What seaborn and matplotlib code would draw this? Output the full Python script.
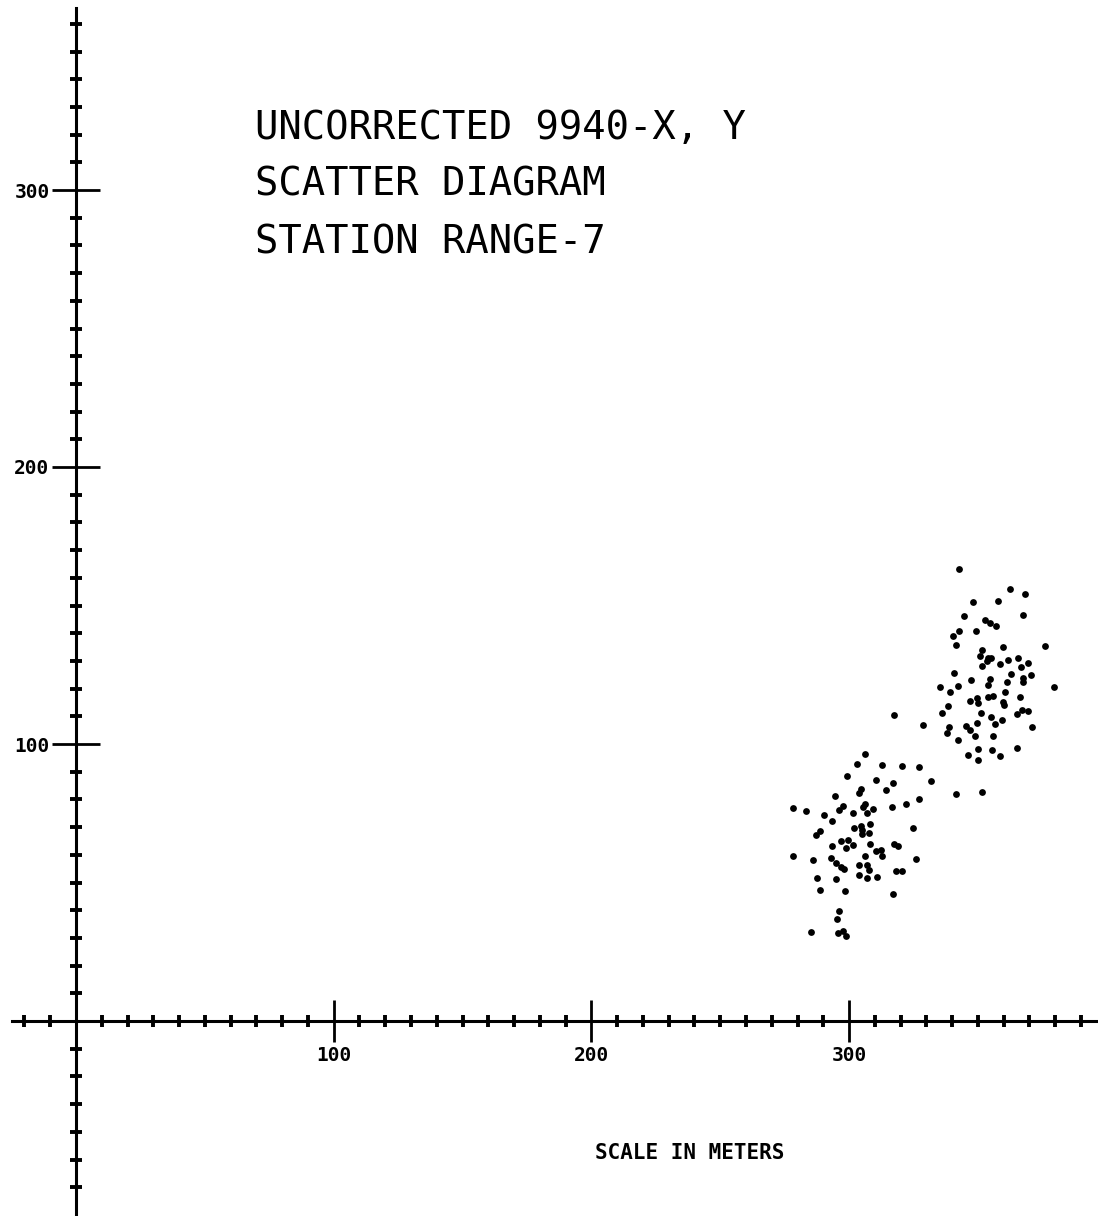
import matplotlib
matplotlib.use("Agg")
import matplotlib.pyplot as plt
import seaborn as sns
import numpy as np
import pandas as pd
from matplotlib.ticker import FixedLocator

# ---- data (meters) ----
cluster_a_x = [306.1, 303.2, 312.6, 320.5, 327.1, 299.2, 310.6, 317.2, 331.8, 304.7,
               303.8, 314.2, 294.5, 327.1, 322.0, 278.3, 283.2, 297.6, 296.2, 306.2,
               305.4, 309.2, 316.8, 301.4, 306.8, 290.4, 293.4, 308.0, 304.5, 305.0,
               305.0, 301.8, 307.7, 324.9, 288.7, 287.0, 296.9, 299.7, 293.5, 298.7,
               301.5, 308.0, 317.4, 319.0, 310.4, 312.5, 312.6, 306.1, 278.3, 285.9,
               292.9, 326.1, 295.0, 296.7, 298.0, 303.7, 307.1, 307.8, 318.2, 320.5,
               303.7, 307.1, 310.9, 287.5, 295.0, 288.7, 298.4, 317.0, 296.2, 295.2,
               285.1, 295.8, 297.5, 298.7, 317.4, 328.8]
cluster_a_y = [96.3, 92.9, 92.3, 92.2, 91.6, 88.3, 87.0, 86.0, 86.8, 83.9,
               82.3, 83.5, 81.3, 80.3, 78.4, 76.8, 75.9, 77.5, 76.3, 78.4,
               77.4, 76.4, 77.4, 75.1, 75.1, 74.4, 72.1, 71.2, 70.4, 69.0,
               67.4, 69.7, 67.9, 69.8, 68.6, 67.3, 65.1, 65.5, 63.2, 62.6,
               63.6, 63.8, 64.0, 63.2, 61.4, 61.6, 59.7, 59.7, 59.6, 58.0,
               59.0, 58.5, 57.1, 55.7, 54.9, 56.4, 56.4, 54.6, 54.2, 54.3,
               52.7, 51.6, 52.1, 51.5, 51.3, 47.4, 47.0, 45.7, 39.7, 36.9,
               32.1, 31.7, 32.4, 30.6, 110.5, 107.0]

cluster_b_x = [342.6, 362.3, 368.1, 348.0, 357.7, 344.6, 367.5, 352.7, 354.7, 357.0,
               342.5, 340.2, 349.4, 341.6, 375.9, 359.8, 351.6, 350.8, 354.0, 354.9,
               353.6, 351.7, 358.6, 361.8, 365.7, 369.3, 366.8, 340.7, 362.7, 370.7,
               347.2, 354.8, 353.9, 367.5, 367.5, 361.3, 335.3, 342.1, 339.3, 379.5,
               360.4, 349.8, 349.9, 346.9, 353.9, 356.0, 359.8, 360.0, 366.4, 338.4,
               336.2, 351.1, 354.9, 365.0, 367.0, 369.5, 338.8, 338.0, 345.5, 346.9,
               349.8, 356.6, 359.3, 371.0, 349.0, 356.0, 342.1, 350.0, 355.3, 365.0,
               346.3, 350.1, 358.4, 341.4, 351.7]
cluster_b_y = [163.2, 156.1, 154.0, 151.4, 151.7, 146.1, 146.7, 144.7, 143.7, 142.5,
               140.8, 138.9, 140.9, 135.6, 135.4, 134.9, 133.9, 131.8, 131.2, 130.9,
               130.1, 128.2, 129.0, 130.4, 130.9, 129.4, 127.7, 125.7, 125.4, 124.9,
               123.2, 123.4, 121.3, 123.9, 122.3, 122.4, 120.6, 120.9, 118.7, 120.5,
               118.7, 116.7, 114.7, 115.6, 116.9, 117.4, 115.3, 114.2, 117.1, 113.7,
               111.2, 111.2, 109.9, 110.8, 112.3, 111.9, 106.0, 103.9, 106.6, 104.9,
               107.7, 107.1, 108.6, 106.0, 103.0, 102.9, 101.6, 98.3, 97.7, 98.4,
               96.1, 94.3, 95.6, 82.1, 82.6]

major_ticks = [100, 200, 300]
major_labels = ["100", "200", "300"]
title_lines = ["UNCORRECTED 9940-X, Y", "SCATTER DIAGRAM", "STATION RANGE-7"]
axis_caption = "SCALE IN METERS"

df = pd.DataFrame({
    "x": cluster_a_x + cluster_b_x,
    "y": cluster_a_y + cluster_b_y,
})

# ---- figure ----
sns.set_style("white")
plt.rcParams["font.family"] = ["DejaVu Sans Mono", "DejaVu Sans"]
plt.rcParams["axes.edgecolor"] = "black"
plt.rcParams["xtick.color"] = "black"
plt.rcParams["ytick.color"] = "black"
plt.rcParams["xtick.labelcolor"] = "black"
plt.rcParams["ytick.labelcolor"] = "black"
plt.rcParams["text.color"] = "black"

W, H = 1098, 1216
fig = plt.figure(figsize=(W / 100, H / 100), dpi=100)
ax = fig.add_axes([0, 0, 1, 1])

sns.scatterplot(data=df, x="x", y="y", ax=ax, color="black", s=24,
                linewidth=0, marker="o", legend=False)

# pixel calibration: origin at (76, 1021), 2.577 px/m horizontally, 2.77 px/m vertically
x0, sx = 76, 2.577
y0, sy = 1021, 2.77
ax.set_xlim(-x0 / sx, (W - x0) / sx)
ax.set_ylim(-(H - y0) / sy, y0 / sy)

for s in ["top", "right"]:
    ax.spines[s].set_visible(False)
for s in ["left", "bottom"]:
    ax.spines[s].set_position(("data", 0))
    ax.spines[s].set_linewidth(2.2)
    ax.spines[s].set_color("black")
ax.spines["bottom"].set_bounds((12 - x0) / sx, (W - x0) / sx)
ax.spines["left"].set_bounds(-(H - y0) / sy, (y0 - 8) / sy)

ax.xaxis.set_major_locator(FixedLocator(major_ticks))
ax.yaxis.set_major_locator(FixedLocator(major_ticks))
ax.set_xticklabels(major_labels)
ax.set_yticklabels(major_labels)
ax.xaxis.set_minor_locator(FixedLocator([v for v in range(-20, 400, 10) if v % 100 != 0]))
ax.yaxis.set_minor_locator(FixedLocator([v for v in range(-60, 370, 10) if v % 100 != 0]))

ax.tick_params(axis="x", which="major", direction="inout", length=30, width=2,
               pad=3, labelsize=14, bottom=True, colors="black")
ax.tick_params(axis="y", which="major", direction="inout", length=35, width=2,
               pad=1.5, labelsize=14, left=True, colors="black")
ax.tick_params(which="minor", direction="inout", length=9, width=2.8,
               bottom=True, left=True, colors="black")
for lab in ax.get_xticklabels() + ax.get_yticklabels():
    lab.set_fontweight("bold")
    lab.set_family(["DejaVu Sans Mono"])

ax.set_xlabel("")
ax.set_ylabel("")

# title block
for i, line in enumerate(title_lines):
    yb = 139 + i * 57
    fig.text(255 / W, 1 - yb / H, line, fontsize=28, family=["DejaVu Sans Mono"],
             ha="left", va="baseline", color="black")

fig.text(690 / W, 1 - 1153 / H, axis_caption, fontsize=15, fontweight="bold",
         family=["DejaVu Sans Mono"], ha="center", va="center", color="black")

fig.savefig("out.png", dpi=100, facecolor="white")
